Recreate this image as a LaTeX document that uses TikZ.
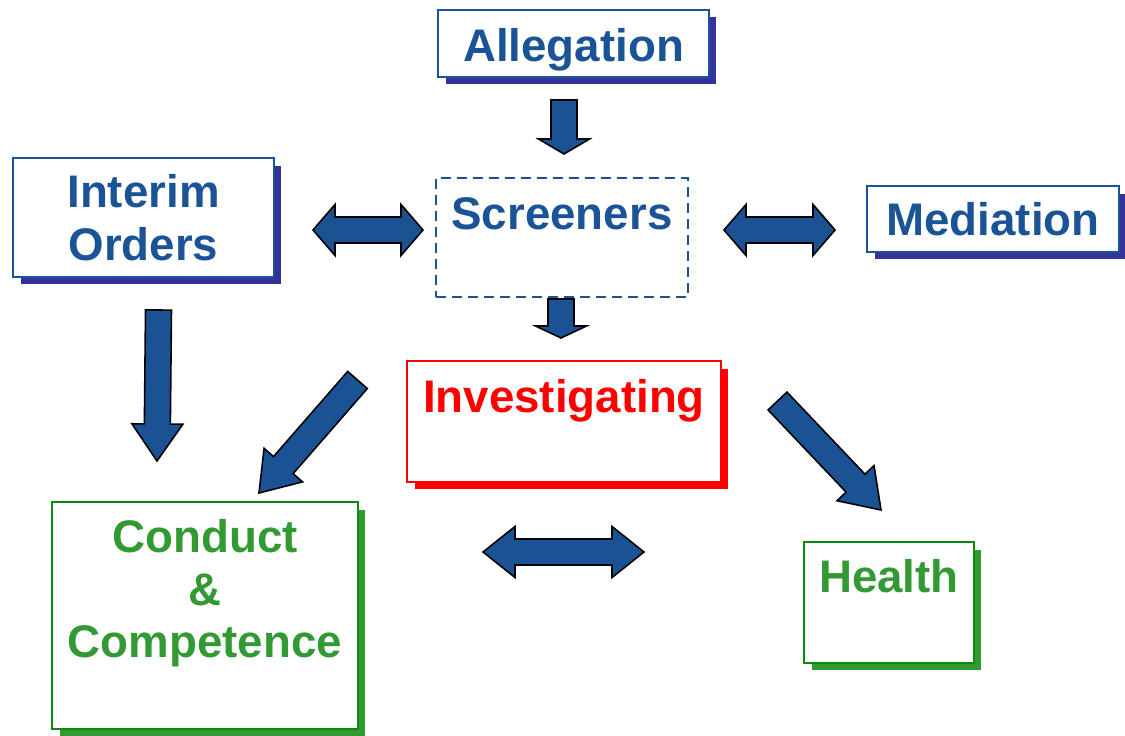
\documentclass[tikz,border=0pt]{standalone}
\usepackage{fontspec}
\setmainfont{Liberation Sans}
\usetikzlibrary{calc,shadows}

\definecolor{boxblue}{RGB}{27,84,150}
\definecolor{shadeblue}{RGB}{51,51,153}
\definecolor{boxgreen}{RGB}{10,140,10}
\definecolor{textgreen}{RGB}{51,153,51}
\definecolor{arrowblue}{RGB}{26,82,148}

\def\shaftw{0.26cm}
\def\headw{0.51cm}

% fat arrow from #1 (tail) to #2 (tip), head length #3
\newcommand{\blockarrow}[3]{%
  \coordinate (ba-c) at ($(#2)!#3!(#1)$);
  \draw[fatarrow] ($(#1)!\shaftw!90:(#2)$) -- ($(ba-c)!\shaftw!90:(#2)$) -- ($(ba-c)!\headw!90:(#2)$) -- (#2)
    -- ($(ba-c)!\headw!-90:(#2)$) -- ($(ba-c)!\shaftw!-90:(#2)$) -- ($(#1)!\shaftw!-90:(#2)$) -- cycle;}
% fat arrow with heads at both ends
\newcommand{\dblockarrow}[3]{%
  \coordinate (ba-c1) at ($(#1)!#3!(#2)$);
  \coordinate (ba-c2) at ($(#2)!#3!(#1)$);
  \draw[fatarrow] (#1) -- ($(ba-c1)!\headw!90:(#2)$) -- ($(ba-c1)!\shaftw!90:(#2)$) -- ($(ba-c2)!\shaftw!90:(#2)$)
    -- ($(ba-c2)!\headw!90:(#2)$) -- (#2) -- ($(ba-c2)!\headw!-90:(#2)$) -- ($(ba-c2)!\shaftw!-90:(#2)$)
    -- ($(ba-c1)!\shaftw!-90:(#2)$) -- ($(ba-c1)!\headw!-90:(#2)$) -- cycle;}

\tikzset{
  box/.style={draw, fill=white, line width=1.1pt, inner sep=0pt, align=center,
    font=\fontsize{26}{30}\selectfont\bfseries},
  shade/.style={drop shadow={shadow xshift=0.15cm, shadow yshift=-0.15cm, fill=#1, opacity=1}},
  bluebox/.style={box, draw=boxblue, text=boxblue, shade=shadeblue},
  redbox/.style={box, draw=red, text=red, shade=red},
  greenbox/.style={box, draw=boxgreen, text=textgreen, shade=textgreen},
  fatarrow/.style={fill=arrowblue, draw=black, line width=0.9pt, line join=miter},
}

\begin{document}
\begin{tikzpicture}[x=0.02cm, y=-0.02cm]
        \useasboundingbox (0,0) rectangle (1125,736);

        % boxes
        \node[bluebox, minimum width=5.42cm, text height=1.04cm, text depth=0.30cm] (alleg) at (573.5,43.5) {Allegation};
        \node[bluebox, minimum width=5.22cm, minimum height=2.38cm] (interim) at (143.5,217.5) {Interim\\Orders};
        \node[box, draw=boxblue, text=boxblue, dash pattern=on 0.2cm off 0.12cm, minimum width=5.04cm,
              text height=1.04cm, text depth=1.34cm] (screen) at (562,237.5) {Screeners};
        \node[bluebox, minimum width=5.04cm, text height=1.0cm, text depth=0.32cm] (medi) at (993,219) {Mediation};
        \node[redbox, minimum width=6.28cm, text height=1.02cm, text depth=1.4cm] (invest) at (564,421.5) {Investigating};
        \node[greenbox, minimum width=6.12cm, text height=3.12cm, text depth=1.42cm] (conduct) at (205,615.5) {Conduct\\\&\\Competence};
        \node[greenbox, minimum width=3.4cm, text height=1.0cm, text depth=1.42cm] (health) at (889,602.5) {Health};

        % arrow ends
        \coordinate (a1-s) at (564,100);   \coordinate (a1-e) at (564,154);
        \coordinate (a2-s) at (561,299);   \coordinate (a2-e) at (561,338);
        \coordinate (a3-s) at (158.5,310); \coordinate (a3-e) at (157,461);
        \coordinate (a4-s) at (357.5,380); \coordinate (a4-e) at (259,493);
        \coordinate (a5-s) at (777.5,401); \coordinate (a5-e) at (881,510);
        \coordinate (d1-l) at (313,230);   \coordinate (d1-r) at (423,230);
        \coordinate (d2-l) at (724,230);   \coordinate (d2-r) at (835,230);
        \coordinate (d3-l) at (483,552);   \coordinate (d3-r) at (644,552);

        % one way
        \blockarrow{a1-s}{a1-e}{0.3cm}
        \blockarrow{a2-s}{a2-e}{0.24cm}
        \blockarrow{a3-s}{a3-e}{0.74cm}
        \blockarrow{a4-s}{a4-e}{0.74cm}
        \blockarrow{a5-s}{a5-e}{0.74cm}
        %% both ways
        \dblockarrow{d1-l}{d1-r}{0.44cm}
        \dblockarrow{d2-l}{d2-r}{0.44cm}
        \dblockarrow{d3-l}{d3-r}{0.64cm}

    \end{tikzpicture}
\end{document}
